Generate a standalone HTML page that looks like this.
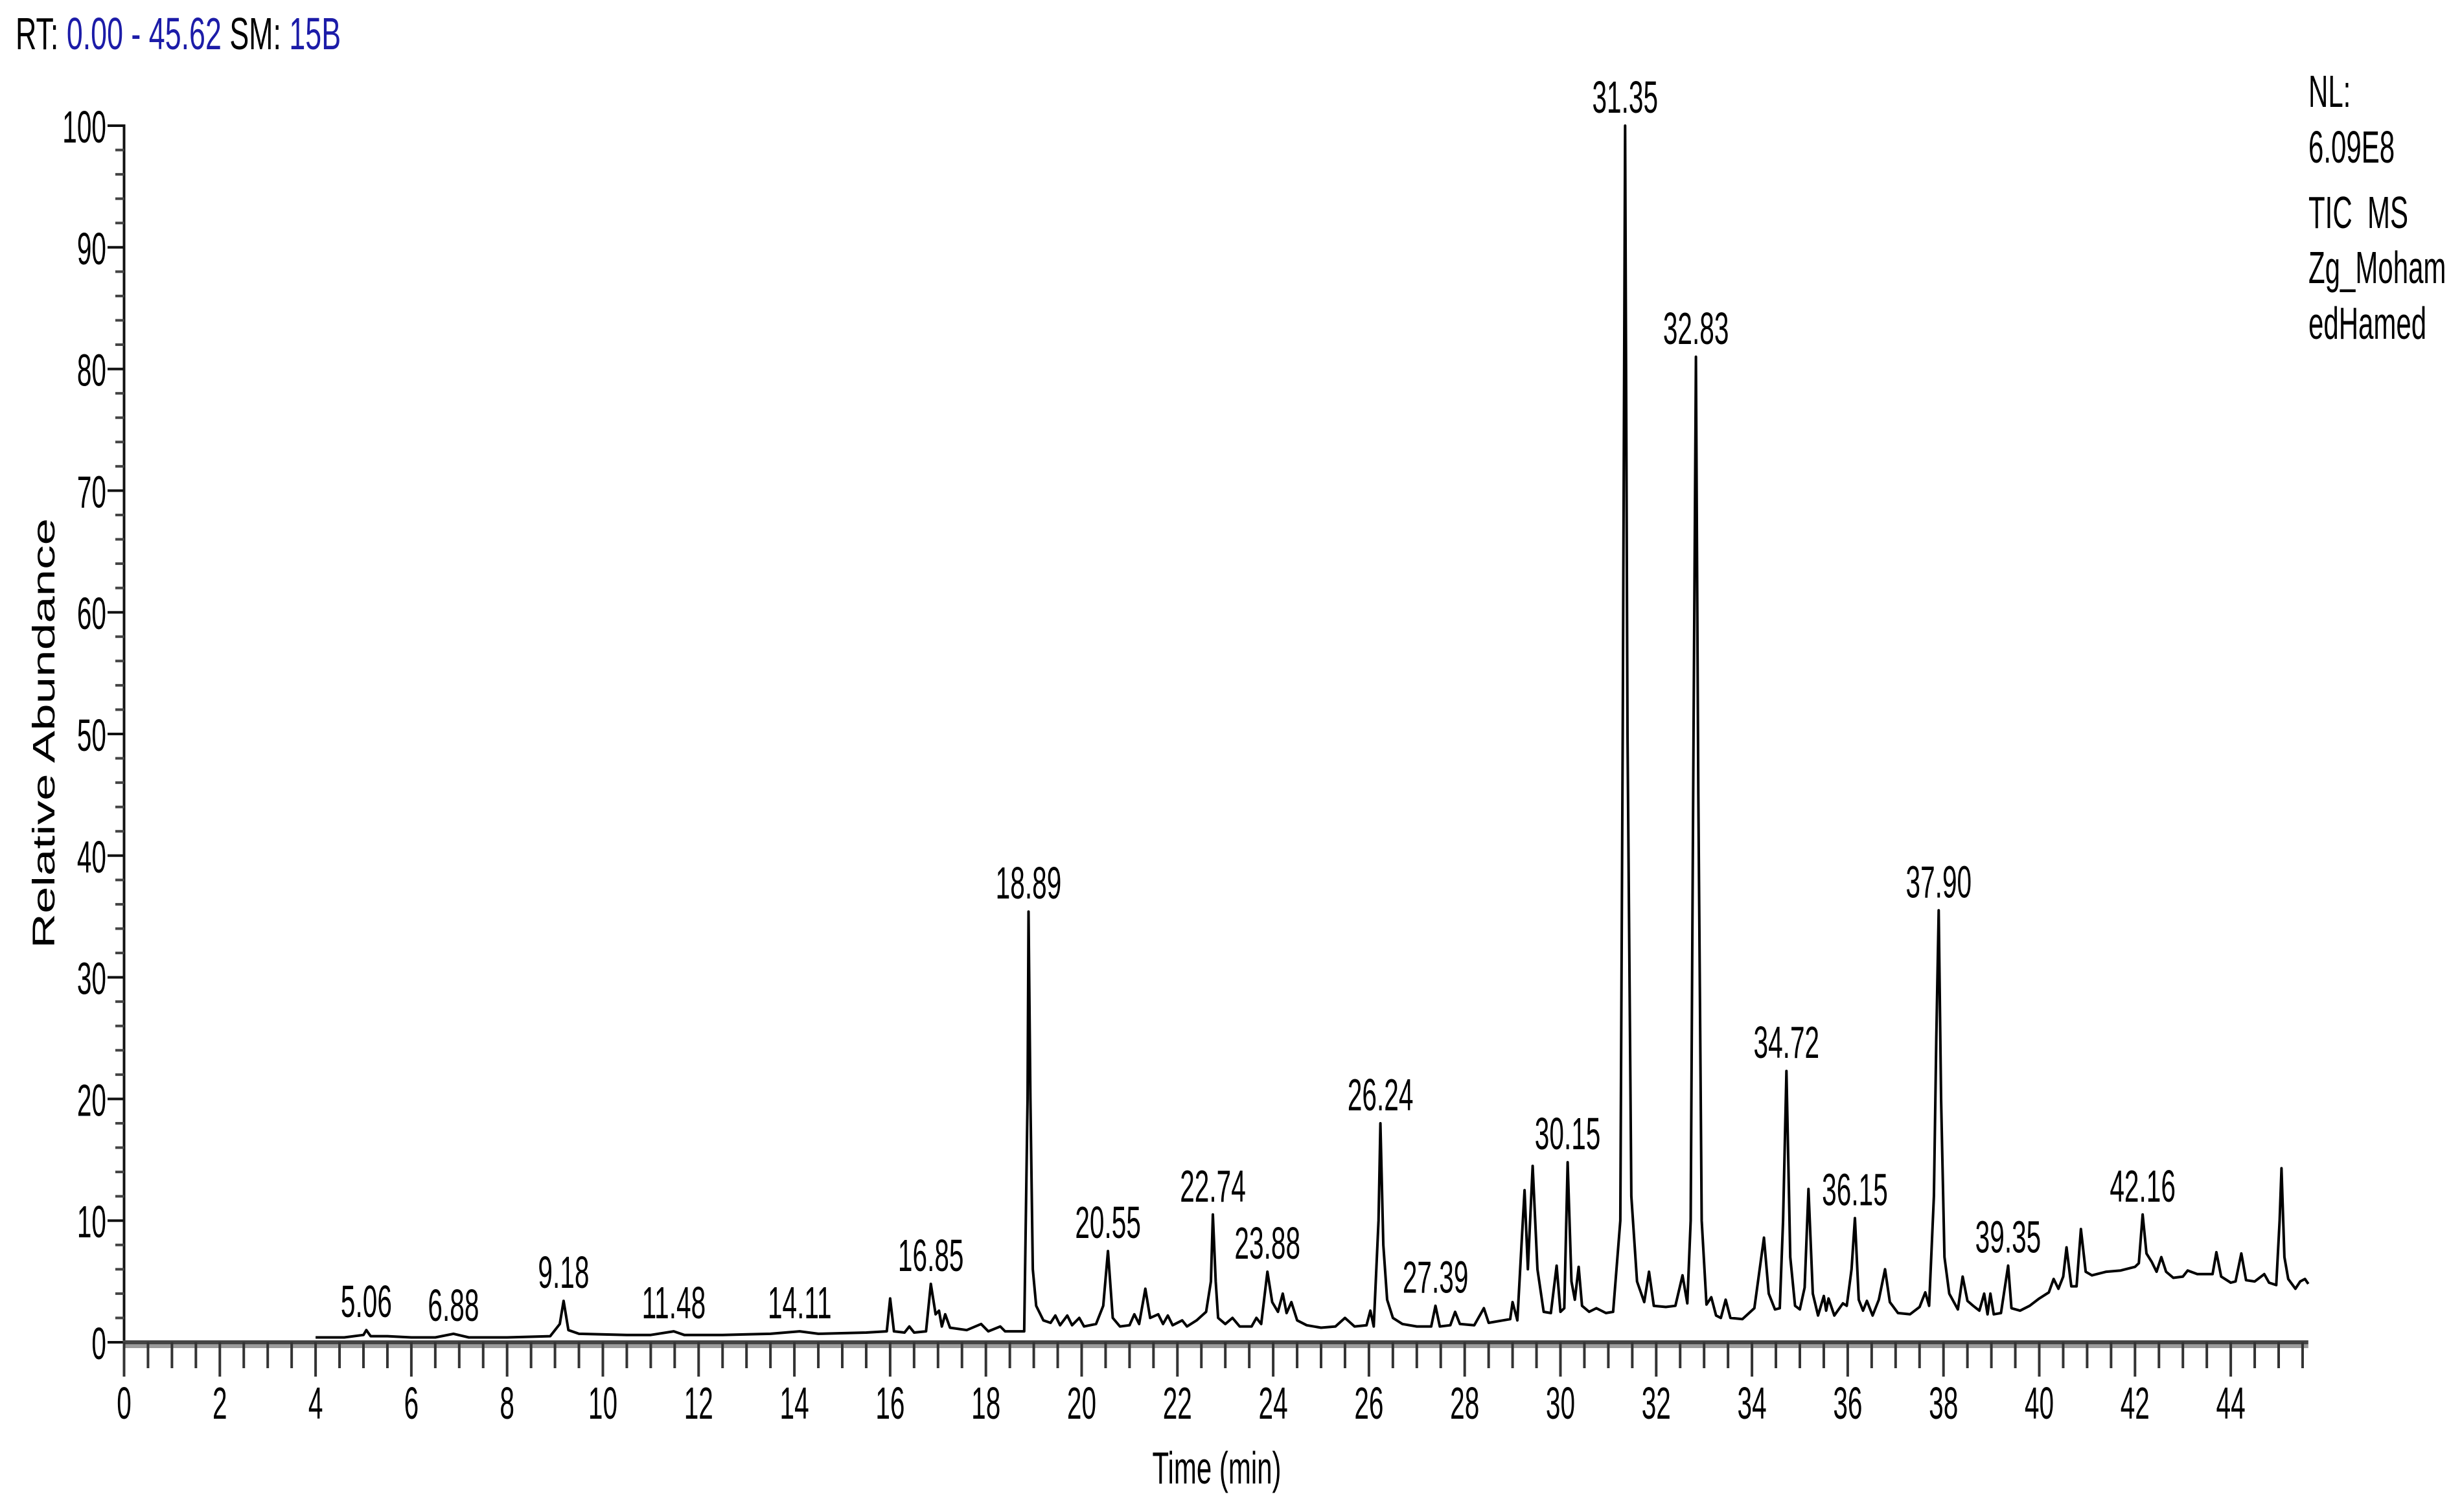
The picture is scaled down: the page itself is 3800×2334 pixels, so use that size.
<!DOCTYPE html>
<html><head><meta charset="utf-8"><style>
html,body{margin:0;padding:0;background:#fff;}
svg{display:block;font-family:"Liberation Sans",Arial,sans-serif;}
</style></head><body>
<svg id="chart" width="3800" height="2334" viewBox="0 0 3800 2334" xmlns="http://www.w3.org/2000/svg">
<g id="header">
<text transform="translate(24,76) scale(0.64,1)" font-size="70"><tspan fill="#000">RT: </tspan><tspan fill="#1c1ca8">0.00 - 45.62</tspan><tspan fill="#000">  SM: </tspan><tspan fill="#1c1ca8">15B</tspan></text>
</g>
<g id="info" font-size="70" fill="#000">
<text transform="translate(3563,165) scale(0.6,1)">NL:</text>
<text transform="translate(3563,251) scale(0.6,1)">6.09E8</text>
<text transform="translate(3563,352) scale(0.6,1)" xml:space="preserve">TIC  MS</text>
<text transform="translate(3563,437) scale(0.6,1)">Zg_Moham</text>
<text transform="translate(3563,523) scale(0.6,1)">edHamed</text>
</g>
<text transform="translate(84,1132) rotate(-90)" text-anchor="middle" font-size="48" textLength="664" lengthAdjust="spacingAndGlyphs">Relative Abundance</text>
<text transform="translate(1878,2290) scale(0.6,1)" text-anchor="middle" font-size="70">Time (min)</text>
<g id="axes"></g>
<g id="trace"></g>
<g id="labels"></g>
</svg>
<script>
// ---- data ----
var times = [4.0,4.6,5.0,5.06,5.15,5.5,6.0,6.5,6.88,7.2,8.0,8.9,9.1,9.18,9.28,9.5,10.5,11.0,11.48,11.7,12.5,13.5,14.11,14.5,15.5,15.93,16.0,16.08,16.3,16.4,16.5,16.75,16.85,16.95,17.02,17.08,17.15,17.25,17.6,17.9,18.05,18.3,18.4,18.8,18.87,18.89,18.93,18.98,19.05,19.2,19.35,19.45,19.55,19.7,19.8,19.95,20.05,20.3,20.45,20.55,20.65,20.8,21.0,21.1,21.2,21.33,21.43,21.6,21.7,21.8,21.9,22.1,22.2,22.4,22.6,22.7,22.74,22.8,22.85,23.0,23.15,23.3,23.55,23.65,23.75,23.88,23.98,24.1,24.2,24.28,24.38,24.5,24.7,25.0,25.3,25.5,25.7,25.95,26.03,26.1,26.2,26.24,26.3,26.38,26.5,26.7,27.0,27.3,27.39,27.48,27.7,27.8,27.9,28.2,28.4,28.5,28.8,28.95,29.0,29.1,29.2,29.25,29.32,29.42,29.52,29.65,29.8,29.92,30.0,30.08,30.15,30.23,30.3,30.38,30.45,30.6,30.75,30.95,31.1,31.25,31.3,31.35,31.4,31.48,31.6,31.75,31.85,31.95,32.2,32.4,32.55,32.65,32.72,32.78,32.83,32.88,32.95,33.05,33.15,33.25,33.35,33.45,33.55,33.8,34.05,34.25,34.35,34.48,34.58,34.65,34.72,34.8,34.9,35.0,35.1,35.18,35.27,35.38,35.5,35.55,35.6,35.72,35.9,35.98,36.08,36.15,36.23,36.32,36.4,36.52,36.65,36.78,36.88,37.05,37.3,37.5,37.62,37.7,37.8,37.85,37.9,37.95,38.02,38.12,38.3,38.4,38.5,38.62,38.75,38.85,38.92,38.98,39.05,39.2,39.35,39.42,39.6,39.8,40.0,40.2,40.3,40.4,40.5,40.57,40.67,40.78,40.87,40.97,41.1,41.4,41.7,42.0,42.08,42.16,42.24,42.35,42.45,42.55,42.65,42.8,43.0,43.1,43.3,43.5,43.62,43.7,43.8,44.0,44.1,44.22,44.32,44.5,44.6,44.7,44.8,44.95,45.02,45.06,45.12,45.2,45.35,45.45,45.55,45.62];
var abundance = [0.4,0.4,0.6,1.0,0.5,0.5,0.4,0.4,0.7,0.4,0.4,0.5,1.5,3.4,1.0,0.7,0.6,0.6,0.9,0.6,0.6,0.7,0.9,0.7,0.8,0.9,3.6,0.9,0.8,1.3,0.8,0.9,4.8,2.3,2.6,1.3,2.3,1.2,1.0,1.5,0.9,1.3,0.9,0.9,20,35.4,20,6,3,1.8,1.6,2.2,1.4,2.2,1.4,2.0,1.3,1.5,3,7.5,2,1.3,1.4,2.3,1.5,4.4,2.0,2.3,1.5,2.2,1.4,1.8,1.3,1.8,2.5,5,10.5,5,2.0,1.5,2.0,1.3,1.3,2.0,1.5,5.8,3.3,2.5,4.0,2.4,3.3,1.8,1.4,1.2,1.3,2.0,1.3,1.4,2.6,1.3,10,18,8,3.5,2.0,1.5,1.3,1.3,3.0,1.3,1.4,2.5,1.5,1.4,2.8,1.6,1.8,1.9,3.3,1.8,9,12.5,6,14.5,6,2.5,2.4,6.3,2.5,2.8,14.8,5,3.5,6.2,3.0,2.5,2.8,2.4,2.5,10,50,100,50,12,5,3.3,5.8,3.0,2.9,3.0,5.5,3.2,10,50,81,45,10,3.1,3.7,2.2,2.0,3.5,2.0,1.9,2.8,8.6,4,2.7,2.8,10,22.3,7,3,2.7,4.5,12.6,4,2.2,3.8,2.6,3.6,2.2,3.2,3.0,6,10.2,3.5,2.6,3.4,2.2,3.5,6.0,3.3,2.4,2.3,2.9,4.1,3.0,12,25,35.5,20,7,4.0,2.7,5.4,3.4,3.0,2.6,4.0,2.3,4.0,2.3,2.4,6.3,2.8,2.6,3.0,3.6,4.1,5.2,4.4,5.4,7.8,4.6,4.6,9.3,5.8,5.5,5.8,5.9,6.2,6.5,10.5,7.3,6.6,5.8,7.0,5.8,5.3,5.4,5.9,5.6,5.6,5.6,7.4,5.4,4.9,5.0,7.3,5.1,5.0,5.3,5.6,4.9,4.7,10,14.3,7,5.2,4.4,5.0,5.2,4.8];
var labelTimes = [5.06,6.88,9.18,11.48,14.11,16.85,18.89,20.55,22.74,23.88,26.24,27.39,30.15,31.35,32.83,34.72,36.15,37.90,39.35,42.16];
var labelValues = [1.0,0.7,3.4,0.9,0.9,4.8,35.4,7.5,10.5,5.8,18,3.0,14.8,100,81,22.3,10.2,35.5,6.3,10.5];
var xTickLabels = [0,2,4,6,8,10,12,14,16,18,20,22,24,26,28,30,32,34,36,38,40,42,44];
var yTickLabels = [0,10,20,30,40,50,60,70,80,90,100];

// ---- scales ----
var X0 = 191.5, PXMIN = 73.9, XMAX = 45.62;
var Y0 = 2072, PXUNIT = 18.78;
function xs(t){ return X0 + t * PXMIN; }
function ys(v){ return Y0 - v * PXUNIT; }
var NS = 'http://www.w3.org/2000/svg';
function mk(tag, attrs, parent){ var e = document.createElementNS(NS, tag); for (var k in attrs) e.setAttribute(k, attrs[k]); parent.appendChild(e); return e; }

var axes = document.getElementById('axes');
// y axis line
var yl = mk('line', {x1: X0, y1: ys(100) - 2, x2: X0, y2: Y0, stroke: '#111', 'stroke-width': 4}, axes);


// y ticks every 2
for (var v = 0; v <= 100; v += 2) {
  var major = (v % 10 === 0);
  var t = mk('line', {x1: major ? 166 : 178, y1: ys(v), x2: X0, y2: ys(v), stroke: major ? '#111' : '#444', 'stroke-width': 4}, axes);
  
  
}
yTickLabels.forEach(function(v){
  var tx = mk('text', {transform: 'translate(164,' + (ys(v) + 26) + ') scale(0.58,1)', 'text-anchor': 'end', 'font-size': 70}, axes);
  tx.textContent = String(v);
  
  
});
// x axis band
var xb1 = mk('rect', {x: X0 - 2, y: Y0 - 3, width: xs(XMAX) - X0 + 2, height: 6, fill: '#444'}, axes);


var xb2 = mk('rect', {x: X0 - 2, y: Y0 + 3, width: xs(XMAX) - X0 + 2, height: 6, fill: '#9a9a9a'}, axes);


for (var m = 0; m <= XMAX + 0.001; m += 0.5) {
  var maj = (Math.abs(m % 2) < 0.001);
  var xt = mk('line', {x1: xs(m), y1: Y0, x2: xs(m), y2: maj ? 2125 : 2112, stroke: '#333', 'stroke-width': 4}, axes);
  
  
}
xTickLabels.forEach(function(v){
  var tx = mk('text', {transform: 'translate(' + xs(v) + ',2190) scale(0.58,1)', 'text-anchor': 'middle', 'font-size': 70}, axes);
  tx.textContent = String(v);
  
  
});

// trace
var d = '';
for (var i = 0; i < times.length; i++) d += (i ? 'L' : 'M') + xs(times[i]).toFixed(1) + ' ' + ys(abundance[i]).toFixed(1);
var path = mk('path', {d: d, fill: 'none', stroke: '#000', 'stroke-width': 4, 'stroke-linejoin': 'round'}, document.getElementById('trace'));



// peak labels
var lg = document.getElementById('labels');
labelTimes.forEach(function(t, i){
  var tx = mk('text', {transform: 'translate(' + xs(t) + ',' + (ys(labelValues[i]) - 20) + ') scale(0.58,1)', 'text-anchor': 'middle', 'font-size': 70}, lg);
  tx.textContent = t.toFixed(2);
  
  
});
</script>
</body></html>
